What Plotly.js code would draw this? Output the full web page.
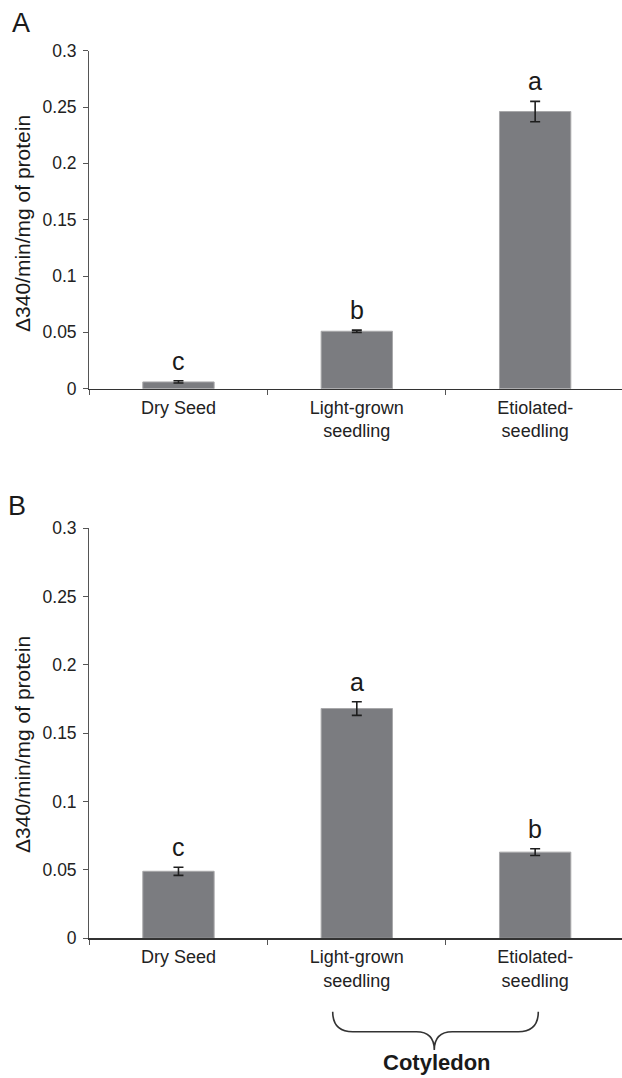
<!DOCTYPE html>
<html>
<head>
<meta charset="utf-8">
<script src="https://cdn.plot.ly/plotly-3.0.1.min.js"></script>
<style>
html,body{margin:0;padding:0;background:#fff;}
#chart{width:622px;height:1078px;}
</style>
</head>
<body>
<div id="chart"></div>
<script>
// ---- data ----
const categories = ['Dry Seed', 'Light-grown seedling', 'Etiolated-seedling'];
const tickLabels = ['Dry Seed', 'Light-grown<br>seedling', 'Etiolated-<br>seedling'];
const valuesA = [0.006, 0.051, 0.246];
const errorsA = [0.001, 0.001, 0.009];
const lettersA = ['c', 'b', 'a'];
const valuesB = [0.049, 0.168, 0.063];
const errorsB = [0.003, 0.005, 0.0025];
const lettersB = ['c', 'a', 'b'];
const yTicks = [0, 0.05, 0.1, 0.15, 0.2, 0.25, 0.3];
const yTitle = 'Δ340/min/mg of protein';
const groupLabel = 'Cotyledon';

// ---- layout helpers ----
const W = 622, H = 1078;
const px = x => x / W;
const py = y => 1 - y / H;
const FONT = 'Liberation Sans, Arial, Helvetica, sans-serif';
const barColor = '#7b7c80';

function barTrace(vals, errs, xa, ya) {
  return {
    type: 'bar', x: categories, y: vals, xaxis: xa, yaxis: ya,
    marker: {color: barColor, line: {color: '#a8a8aa', width: 1}},
    error_y: {type: 'data', array: errs, visible: true, color: '#1e1e1e', thickness: 1.6, width: 5},
    hoverinfo: 'skip', showlegend: false
  };
}

function xAxis(domainAnchor) {
  return {
    type: 'category', categoryarray: categories, categoryorder: 'array',
    range: [-0.5, 2.487], domain: [px(89.3), 1], anchor: domainAnchor,
    showline: true, linecolor: '#333', linewidth: 1.5,
    ticks: 'outside', tickson: 'boundaries', ticklen: 5, tickcolor: '#555', tickwidth: 1,
    tickvals: categories, ticktext: tickLabels,
    ticklabelstandoff: 2,
    tickfont: {family: FONT, size: 18, color: '#222'},
    showgrid: false, zeroline: false, fixedrange: true
  };
}

function yAxis(domain, anchor) {
  return {
    range: [0, 0.3], domain: domain, anchor: anchor,
    tickvals: yTicks, ticktext: yTicks.map(v => String(v)),
    showline: true, linecolor: '#555', linewidth: 1.2,
    ticks: 'outside', ticklen: 5, tickcolor: '#555', tickwidth: 1,
    ticklabelstandoff: 3,
    tickfont: {family: FONT, size: 17.5, color: '#222'},
    showgrid: false, zeroline: false, fixedrange: true
  };
}

function letterAnn(vals, errs, letters, xa, ya) {
  return letters.map((t, i) => ({
    x: categories[i], y: vals[i] + errs[i], xref: xa, yref: ya,
    text: t, showarrow: false, xanchor: 'center', yanchor: 'bottom', yshift: 4,
    font: {family: FONT, size: 25, color: '#1a1a1a'}
  }));
}

function paperText(x, y, text, size, angle) {
  return {x: px(x), y: py(y), xref: 'paper', yref: 'paper', text: text, showarrow: false,
          xanchor: 'center', yanchor: 'middle', textangle: angle || 0,
          font: {family: FONT, size: size, color: '#1a1a1a'}};
}

const traces = [
  barTrace(valuesA, errorsA, 'x', 'y'),
  barTrace(valuesB, errorsB, 'x2', 'y2')
];

// brace under Light-grown / Etiolated (panel B), pixel geometry converted to paper
const bL = 332.7, bR = 538.3, bM = 434.3, yTop = 1011.7, yMid = 1031.7, yTip = 1050;
const P = (x, y) => px(x) + ',' + py(y);
const bracePath =
  'M' + P(bL, yTop) +
  ' Q' + P(bL, yMid) + ' ' + P(bL + 20, yMid) +
  ' L' + P(bM - 18, yMid) +
  ' Q' + P(bM, yMid) + ' ' + P(bM, yTip) +
  ' Q' + P(bM, yMid) + ' ' + P(bM + 18, yMid) +
  ' L' + P(bR - 20, yMid) +
  ' Q' + P(bR, yMid) + ' ' + P(bR, yTop);

const layout = {
  width: W, height: H,
  margin: {l: 0, r: 0, t: 0, b: 0},
  paper_bgcolor: '#fff', plot_bgcolor: 'rgba(0,0,0,0)',
  bargap: 0.6, showlegend: false, hovermode: false,
  font: {family: FONT, color: '#222'},
  xaxis: xAxis('y'),
  yaxis: yAxis([py(388.7), py(50.7)], 'x'),
  xaxis2: xAxis('y2'),
  yaxis2: yAxis([py(938.3), py(528)], 'x2'),
  shapes: [{
    type: 'path', xref: 'paper', yref: 'paper', path: bracePath,
    line: {color: '#333', width: 1.6}
  }],
  annotations: [
    paperText(21, 23, 'A', 27),
    paperText(17, 506, 'B', 27),
    paperText(22, 224, yTitle, 21, -90),
    paperText(22, 745, yTitle, 21, -90),
    paperText(436.7, 1062.5, '<b>' + groupLabel + '</b>', 22)
  ].concat(letterAnn(valuesA, errorsA, lettersA, 'x', 'y'))
   .concat(letterAnn(valuesB, errorsB, lettersB, 'x2', 'y2'))
};

Plotly.newPlot('chart', traces, layout, {displayModeBar: false, staticPlot: true});
</script>
</body>
</html>
